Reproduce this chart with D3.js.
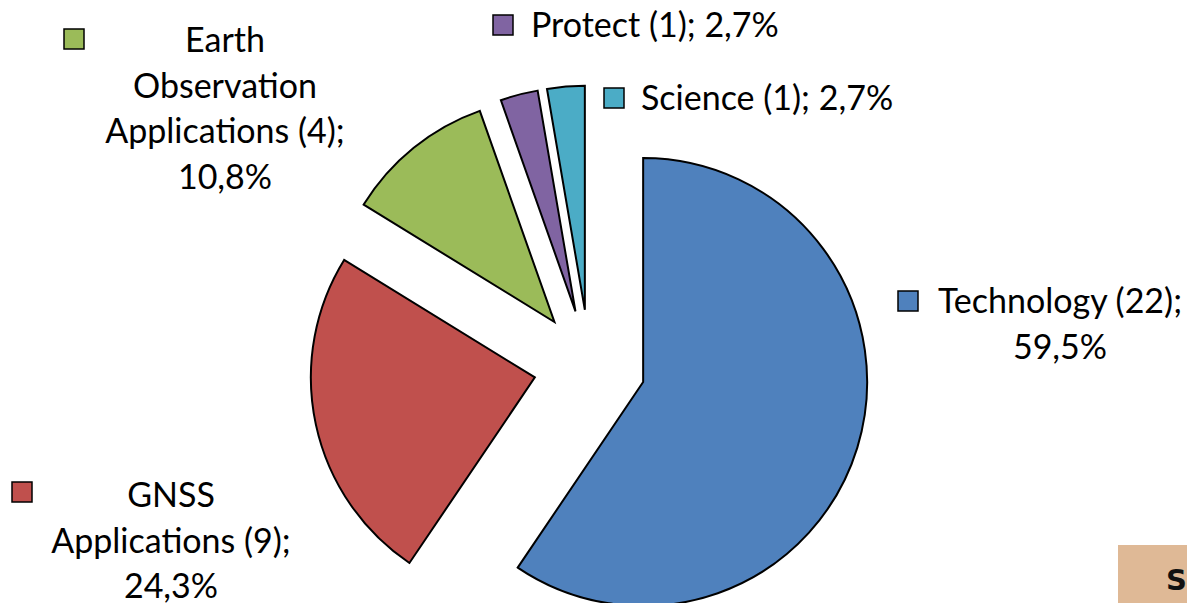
<!DOCTYPE html>
<html><head><meta charset="utf-8">
<script src="https://cdn.jsdelivr.net/npm/d3@7"></script>
<style>html,body{margin:0;padding:0;background:#fff;overflow:hidden}</style>
</head><body>
<svg id="chart" width="1187" height="603"></svg>
<script>
const categories = ["Technology", "GNSS Applications", "Earth Observation Applications", "Protect", "Science"];
const counts = [22, 9, 4, 1, 1];
const percentLabels = ["59,5%", "24,3%", "10,8%", "2,7%", "2,7%"];
const colors = ["#4F81BD", "#C0504D", "#9BBB59", "#8064A2", "#4BACC6"];
const labelLines = [
  ["Technology (22);", "59,5%"],
  ["GNSS", "Applications (9);", "24,3%"],
  ["Earth", "Observation", "Applications (4);", "10,8%"],
  ["Protect (1); 2,7%"],
  ["Science (1); 2,7%"]
];

// layout (positions of label blocks: text center x, first baseline y, key square x,y)
const labelLayout = [
  {cx: 1060, y: 313, kx: 898, ky: 291, anchor: "middle"},
  {cx: 171, y: 507, kx: 12, ky: 482, anchor: "middle"},
  {cx: 225, y: 52, kx: 64, ky: 29, anchor: "middle"},
  {cx: 531, y: 37, kx: 493, ky: 15, anchor: "start"},
  {cx: 641, y: 110, kx: 604, ky: 88, anchor: "start"}
];

const svg = d3.select("#chart");
const cx = 589.6, cy = 365.6, R = 224, explode = 56;

const pie = d3.pie().sort(null).value(d => d)(counts);
const arc = d3.arc().innerRadius(0).outerRadius(R);

const g = svg.append("g").attr("transform", `translate(${cx},${cy})`);
g.selectAll("path").data(pie).join("path")
  .attr("d", arc)
  .attr("fill", (d, i) => colors[i])
  .attr("stroke", "#000")
  .attr("stroke-width", 2)
  .attr("stroke-linejoin", "miter")
  .attr("transform", d => {
    const a = (d.startAngle + d.endAngle) / 2;
    return `translate(${explode * Math.sin(a)},${-explode * Math.cos(a)})`;
  });

const font = "Lato, 'Open Sans', sans-serif";
const lineH = 45.5;
labelLines.forEach((lines, i) => {
  const L = labelLayout[i];
  svg.append("rect").attr("x", L.kx).attr("y", L.ky).attr("width", 20).attr("height", 20)
    .attr("fill", colors[i]).attr("stroke", "#000").attr("stroke-width", 1.5);
  const t = svg.append("text")
    .attr("font-family", font).attr("font-size", 34).attr("fill", "#000")
    .attr("text-anchor", L.anchor);
  lines.forEach((ln, j) => {
    t.append("tspan").attr("x", L.cx).attr("y", L.y + j * lineH).text(ln);
  });
});

// corner badge
svg.append("rect").attr("x", 1118).attr("y", 545).attr("width", 69).attr("height", 58).attr("fill", "#DFB996");
svg.append("text").attr("x", 1166).attr("y", 590).attr("font-family", "'DejaVu Sans', sans-serif")
  .attr("font-weight", "bold").attr("font-size", 29).attr("fill", "#111").text("S");
</script>
</body></html>
